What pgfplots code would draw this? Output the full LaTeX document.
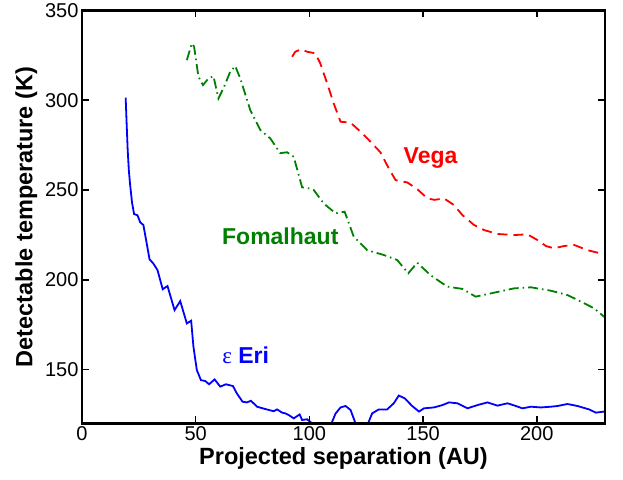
\documentclass[border=0pt]{standalone}
\usepackage{fontspec}
\setmainfont{Liberation Sans}
\newfontfamily\greekfont{Liberation Serif}
\usepackage{pgfplots}
\pgfplotsset{compat=1.18}
\usetikzlibrary{calc}
\definecolor{mblue}{RGB}{0,0,255}
\definecolor{mred}{RGB}{255,0,0}
\definecolor{mgreen}{RGB}{0,128,0}

\begin{document}
\begin{tikzpicture}
\begin{axis}[
    scale only axis,
    width=523pt, height=413pt,
    xmin=0, xmax=230, ymin=120, ymax=350,
    xtick={0,50,100,150,200},
    ytick={150,200,250,300,350},
    xlabel={\bfseries Projected separation (AU)},
    ylabel={\bfseries Detectable temperature (K)},
    label style={font=\fontsize{23.5}{24}\selectfont},
    xlabel style={yshift=1pt},
    ylabel style={yshift=1pt},
    ticklabel style={font=\fontsize{20}{20}\selectfont, /pgf/number format/assume math mode=true},
    tick align=inside,
    tickwidth=7pt,
    axis line style={line width=2.2pt},
    tick style={line width=1.6pt, black},
    % box and ticks drawn again in axis description units
    extra description/.code={
        \draw[line width=2.2pt, black] (0,0) rectangle (1,1);
        \foreach \t in {0.21739,0.43478,0.65217,0.86957} {
            \draw[line width=1.5pt, black] (\t,0) -- ++(0pt,7pt);
            \draw[line width=1.5pt, black] (\t,1) -- ++(0pt,-7pt);
        }
        \foreach \t in {0.13043,0.34783,0.56522,0.78261} {
            \draw[line width=1.5pt, black] (0,\t) -- ++(7pt,0pt);
            \draw[line width=1.5pt, black] (1,\t) -- ++(-7pt,0pt);
        }
    },
]
% Vega
\addplot[mred, line width=1.8pt, dash pattern=on 10pt off 6pt] coordinates {
    (92.4,324.2) (93.8,327) (96.3,328.3) (99,327) (102.6,326.1) (104.8,320.5)
    (107.8,309.4) (110.7,298.2) (113.7,288) (118.1,287.5) (123.3,281.5)
    (127.6,275.9) (131.3,270.9) (134.9,262) (137.9,255.5) (143,254.2)
    (147.4,250.5) (151.9,245.3) (155,244.5) (159.2,245.3) (163.6,241.6)
    (167.3,236) (172.4,230.5) (176.8,227.7) (182.7,225.5) (190,224.9)
    (195.9,225.3) (200.3,222.1) (204,218.8) (207.6,217.5) (212,218.8)
    (216.4,219.4) (222.3,216.5) (229.5,214.2)
};
% Fomalhaut
\addplot[mgreen, line width=1.8pt, dash pattern=on 10pt off 4pt on 1.5pt off 4pt] coordinates {
    (46.1,322.3) (48.3,331.6) (49.3,329.8) (51.2,313.1) (53.2,308.4)
    (55.6,312.1) (57.8,313.4) (60,301) (62.2,306.6) (65.2,315.9) (67.4,319)
    (69.6,312.1) (74,294.5) (78.4,283.4) (82.8,278.7) (87.2,270.5)
    (90.2,271) (93.1,268.5) (96.8,251.5) (99.7,250.9) (101.9,250)
    (106.3,242.5) (111.5,237) (115.5,237.9) (119.5,224) (125.4,216.5)
    (132.7,213.8) (138.6,211) (143.5,203.6) (147.4,209.5) (153.3,202.5)
    (160.6,196.2) (167.3,194.9) (173.1,190.6) (181.2,192.8) (190,195.2)
    (197.4,195.8) (206.2,193.9) (213.5,191.5) (219.4,187.8) (225.2,184.1)
    (229.7,179.3)
};
% eps Eri
\addplot[mblue, line width=1.8pt] coordinates {
    (19.2,301.4) (19.6,288) (20.1,272) (20.6,261) (21.1,253.7) (22,243)
    (22.9,236.6) (24.4,235.9) (25.6,232)
    (27,230.5) (29.7,211.4) (31.4,209) (33.2,205.4) (35.5,194.7) (37.6,196.5)
    (40.7,183.1) (43.2,188.1) (46.1,175.7) (48,177.2) (49,162.8) (50.5,149.7)
    (52.3,144.1) (54.2,143.6) (55.9,141.8) (58.3,144.5) (60.8,140.5)
    (63.3,141.8) (66.4,140.8) (68.1,136.7) (70.6,132.1) (72.5,131.7)
    (74.3,132.6) (77,129.3) (80.6,128) (84.3,126.8) (85.8,127.8) (88,126)
    (89.4,125.6) (90.9,124.7) (93.1,122.8) (95.7,125) (96.8,121.9) (99,122.3)
    (101.2,120) (105,112) (109.7,120) (111.5,125.5) (113.7,128.9) (115.9,129.7)
    (118.1,127.5) (120.3,120) (123,113) (125.8,120) (127.6,125.6) (130.5,127.8)
    (134.2,127.8) (137.1,131.2) (139.3,135.5) (141.9,134) (145.2,129.7)
    (148.2,126.6) (150.4,128.4) (154.8,128.9) (158.5,130.2) (161.4,131.7)
    (165.1,131.2) (169.5,128.4) (173.9,130.2) (178.3,131.7) (182.7,129.9)
    (187.1,131.2) (190.1,130) (193.7,128.4) (197.4,129.3) (201.8,128.9)
    (206.2,129.3) (209.1,129.7) (213.5,130.8) (217.9,129.7) (223,127.8)
    (226,126) (229.7,126.6)
};
\node[mred, font=\fontsize{23}{23}\selectfont\bfseries] at (axis cs:153.3,267.6) {Vega};
\node[mgreen, font=\fontsize{23}{23}\selectfont\bfseries] at (axis cs:87.2,224) {Fomalhaut};
\node[mblue, font=\fontsize{23}{23}\selectfont\bfseries] at (axis cs:72,158) {{\greekfont\mdseries ε} Eri};
\end{axis}
\path[use as bounding box] ($(current axis.south west)+(-82pt,-56pt)$) rectangle ($(current axis.north east)+(18pt,7pt)$);
\end{tikzpicture}
\end{document}
